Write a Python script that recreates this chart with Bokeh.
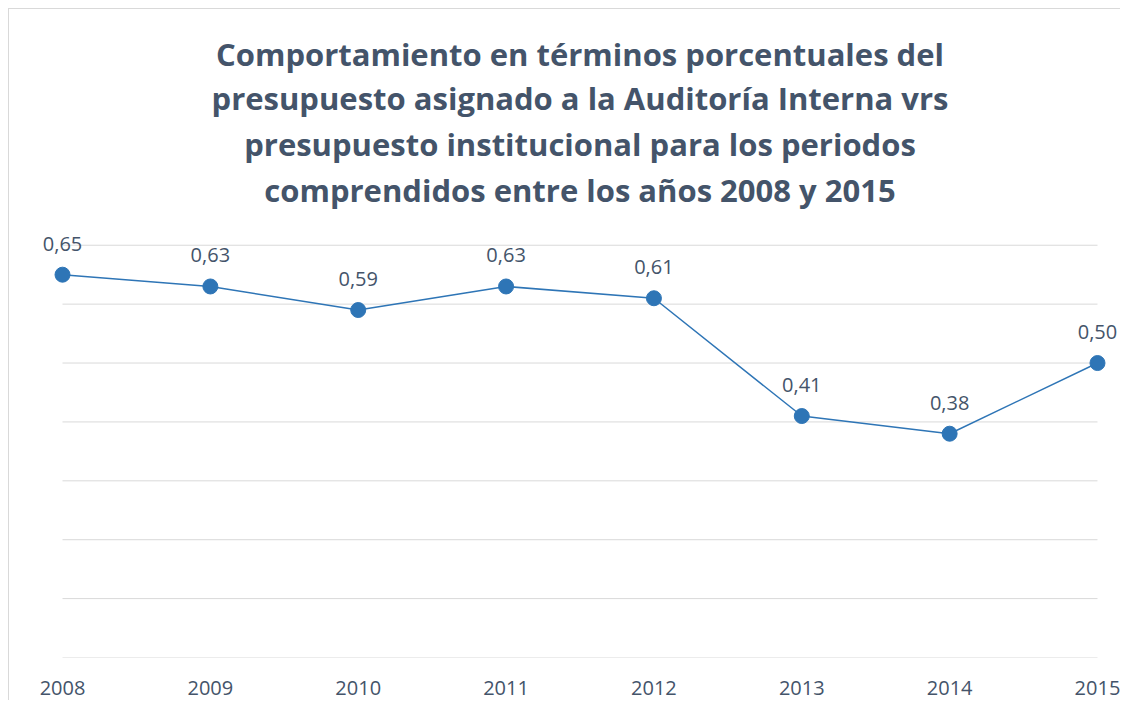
from bokeh.plotting import figure
from bokeh.models import Range1d, FixedTicker, Title
from bokeh.embed import file_html
from bokeh.resources import INLINE

years = [2008, 2009, 2010, 2011, 2012, 2013, 2014, 2015]
values = [0.65, 0.63, 0.59, 0.63, 0.61, 0.41, 0.38, 0.50]
labels = ["0,65", "0,63", "0,59", "0,63", "0,61", "0,41", "0,38", "0,50"]
title_lines = [
    "Comportamiento en términos porcentuales del",
    "presupuesto asignado a la Auditoría Interna vrs",
    "presupuesto institucional para los periodos",
    "comprendidos entre los años 2008 y 2015",
]
grid_ticks = [0.0, 0.1, 0.2, 0.3, 0.4, 0.5, 0.6, 0.7]

TXT = "#44546A"
LINE = "#2E75B6"
GRID = "#D9D9D9"

p = figure(width=1120, height=700, output_backend="svg", toolbar_location=None,
           x_range=Range1d(2007.8444, 2015.1556), y_range=Range1d(0, 0.759),
           min_border_left=39, min_border_right=0, min_border_bottom=43,
           min_border_top=210)
p.outline_line_color = None
p.background_fill_color = None
p.border_fill_color = None
p.styles = {
    "background": ("linear-gradient(#D9D9D9,#D9D9D9) 8px 8px / 1px 100% no-repeat, "
                   "linear-gradient(#D9D9D9,#D9D9D9) 8px 8px / 100% 1px no-repeat, white"),
}

# title lines, added bottom-up (closest to the plot first)
standoffs = [0, 3, 1, 0]
for i, line in enumerate(reversed(title_lines)):
    t = Title(text=line, align="center", text_font="Open Sans", text_font_size="31px",
              text_font_style="bold", text_color=TXT, standoff=standoffs[i])
    p.add_layout(t, "above")

p.yaxis.visible = False
p.xgrid.visible = False
p.ygrid.visible = False

# horizontal gridlines spanning the category extent
n = len(grid_ticks)
p.segment(x0=[years[0]] * n, x1=[years[-1]] * n, y0=grid_ticks, y1=grid_ticks,
          line_color=GRID, line_width=1)

xa = p.xaxis[0]
xa.ticker = FixedTicker(ticks=years)
xa.axis_line_color = None
xa.major_tick_line_color = None
xa.minor_tick_line_color = None
xa.major_tick_out = 0
xa.major_tick_in = 0
xa.major_label_standoff = 23
xa.major_label_text_font = "Open Sans"
xa.major_label_text_font_size = "20px"
xa.major_label_text_color = TXT

p.line(years, values, line_color=LINE, line_width=1.5)
p.scatter(years, values, size=15, fill_color=LINE, line_color=LINE)
p.text(years, values, text=labels, text_align="center", text_baseline="middle",
       y_offset=-31, text_font_size="20px", text_color=TXT,
       text_font={"value": "Open Sans"})

open("out.html", "w").write(file_html(p, INLINE))
